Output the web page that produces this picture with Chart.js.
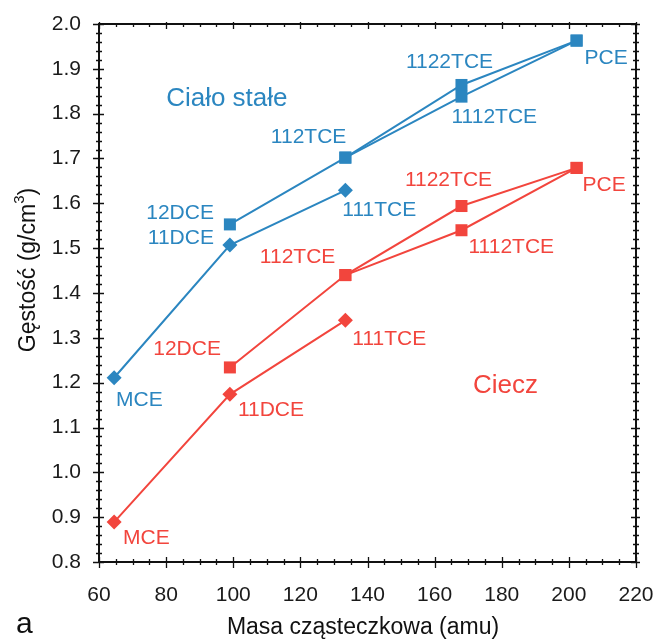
<!DOCTYPE html>
<html>
<head>
<meta charset="utf-8">
<script src="https://cdn.jsdelivr.net/npm/chart.js@4"></script>
<style>
  html, body { margin: 0; padding: 0; background: #fff; }
  #wrap { width: 656px; height: 641px; }
</style>
</head>
<body>
<div id="wrap"><canvas id="chart" width="656" height="641"></canvas></div>
<script>
// compounds, molar mass (amu) and density (g/cm3)
const compounds = ["MCE", "11DCE", "12DCE", "111TCE", "112TCE", "1122TCE", "1112TCE", "PCE"];
const massAmu = [64.5, 99, 99, 133.4, 133.4, 168, 168, 202.3];
const solidDensity = [1.211, 1.507, 1.553, 1.629, 1.702, 1.864, 1.838, 1.963];
const liquidDensity = [0.889, 1.174, 1.234, 1.339, 1.440, 1.594, 1.540, 1.679];

// connected chains
const diamondChain = ["MCE", "11DCE", "111TCE"];
const squareChainA = ["12DCE", "112TCE", "1122TCE", "PCE"];
const squareChainB = ["112TCE", "1112TCE", "PCE"];

const xTicks = [60, 80, 100, 120, 140, 160, 180, 200, 220];
const yTicks = [0.8, 0.9, 1.0, 1.1, 1.2, 1.3, 1.4, 1.5, 1.6, 1.7, 1.8, 1.9, 2.0];

const BLUE = "#2b86c0";
const RED = "#f2453d";
const FONT = "'Liberation Sans', Arial, sans-serif";

// label placement (pixel offsets from the point)
const solidLabels = {
  "MCE": ["left", 2, 22], "11DCE": ["right", -16, -7], "12DCE": ["right", -16, -11],
  "111TCE": ["left", -3, 20], "112TCE": ["right", 1, -20], "1122TCE": ["center", -12, -23],
  "1112TCE": ["left", -10, 21], "PCE": ["left", 8, 18],
};
const liquidLabels = {
  "MCE": ["left", 9, 16], "11DCE": ["left", 8, 16], "12DCE": ["right", -9, -18],
  "111TCE": ["left", 7, 19], "112TCE": ["right", -10, -18], "1122TCE": ["center", -13, -26],
  "1112TCE": ["left", 7, 17], "PCE": ["left", 6, 17],
};
const regions = [
  { text: "Ciało stałe", x: 80, y: 1.833, color: BLUE },
  { text: "Ciecz", x: 171.4, y: 1.192, color: RED },
];

function pts(chain, dens) {
  return chain.map((n) => {
    const i = compounds.indexOf(n);
    return { x: massAmu[i], y: dens[i] };
  });
}

function series(chain, dens, color, style) {
  return {
    data: pts(chain, dens),
    borderColor: color,
    backgroundColor: color,
    borderWidth: 2,
    pointStyle: style,
    pointRadius: style === "rect" ? 8.5 : 7.5,
    pointBorderWidth: 0,
    showLine: true,
    tension: 0,
  };
}

const datasets = [
  series(squareChainB, solidDensity, BLUE, "rect"),
  series(squareChainA, solidDensity, BLUE, "rect"),
  series(diamondChain, solidDensity, BLUE, "rectRot"),
  series(squareChainB, liquidDensity, RED, "rect"),
  series(squareChainA, liquidDensity, RED, "rect"),
  series(diamondChain, liquidDensity, RED, "rectRot"),
];

const decor = {
  id: "decor",
  afterDraw(chart) {
    const { ctx, chartArea: a, scales: { x, y } } = chart;
    ctx.save();
    ctx.strokeStyle = "#111";
    ctx.lineWidth = 2;
    ctx.strokeRect(a.left, a.top, a.right - a.left, a.bottom - a.top);

    ctx.lineWidth = 1.3;
    ctx.beginPath();
    for (let v = 60; v <= 220.001; v += 5) {
      const px = Math.round(x.getPixelForValue(v)) + 0.5;
      const major = Math.abs(v % 20) < 1e-6;
      const o = major ? 6 : 3, n = major ? 5 : 3;
      ctx.moveTo(px, a.bottom + o); ctx.lineTo(px, a.bottom - n);
      ctx.moveTo(px, a.top - (major ? 2 : 1)); ctx.lineTo(px, a.top + n);
    }
    for (let k = 0; k <= 60; k++) {
      const v = 0.8 + k * 0.02;
      const py = Math.round(y.getPixelForValue(v)) + 0.5;
      const major = k % 5 === 0;
      const o = major ? 6 : 3, n = major ? 5 : 3;
      ctx.moveTo(a.left - o, py); ctx.lineTo(a.left + n, py);
      ctx.moveTo(a.right - n, py); ctx.lineTo(a.right + (major ? 4 : 3), py);
    }
    ctx.stroke();

    // point labels
    ctx.textBaseline = "middle";
    ctx.font = `21px ${FONT}`;
    const drawLabels = (labels, dens, color) => {
      ctx.fillStyle = color;
      for (const [name, [align, dx, dy]] of Object.entries(labels)) {
        const i = compounds.indexOf(name);
        ctx.textAlign = align;
        ctx.fillText(name, x.getPixelForValue(massAmu[i]) + dx, y.getPixelForValue(dens[i]) + dy);
      }
    };
    drawLabels(solidLabels, solidDensity, BLUE);
    drawLabels(liquidLabels, liquidDensity, RED);

    ctx.font = `26px ${FONT}`;
    ctx.textAlign = "left";
    for (const r of regions) {
      ctx.fillStyle = r.color;
      ctx.fillText(r.text, x.getPixelForValue(r.x), y.getPixelForValue(r.y));
    }

    // axis titles
    ctx.fillStyle = "#111";
    ctx.font = `23px ${FONT}`;
    ctx.textAlign = "center";
    ctx.fillText("Masa cząsteczkowa (amu)", 363, 628);

    ctx.save();
    ctx.translate(29, 270);
    ctx.rotate(-Math.PI / 2);
    const main = "Gęstość (g/cm";
    const w1 = ctx.measureText(main).width;
    ctx.font = `15px ${FONT}`;
    const w3 = ctx.measureText("3").width;
    ctx.font = `23px ${FONT}`;
    const w4 = ctx.measureText(")").width;
    const start = -(w1 + w3 + w4) / 2;
    ctx.textAlign = "left";
    ctx.fillText(main, start, 0);
    ctx.font = `15px ${FONT}`;
    ctx.fillText("3", start + w1, -9);
    ctx.font = `23px ${FONT}`;
    ctx.fillText(")", start + w1 + w3, 0);
    ctx.restore();

    ctx.font = `30px ${FONT}`;
    ctx.textAlign = "left";
    ctx.fillText("a", 16, 625);
    ctx.restore();
  },
};

new Chart(document.getElementById("chart"), {
  type: "scatter",
  data: { datasets },
  options: {
    responsive: false,
    animation: false,
    layout: { padding: { top: 24, right: 20, left: 0, bottom: 0 } },
    plugins: { legend: { display: false }, tooltip: { enabled: false } },
    scales: {
      x: {
        type: "linear",
        min: 60,
        max: 220,
        afterBuildTicks: (s) => { s.ticks = xTicks.map((v) => ({ value: v })); },
        afterFit: (s) => { s.height = 79; s.paddingLeft = 0; s.paddingRight = 0; },
        grid: { display: false },
        border: { display: false },
        ticks: { color: "#1a1a1a", font: { family: FONT, size: 21 }, padding: 13, maxRotation: 0 },
      },
      y: {
        type: "linear",
        min: 0.8,
        max: 2.0,
        afterBuildTicks: (s) => { s.ticks = yTicks.map((v) => ({ value: v })); },
        afterFit: (s) => { s.width = 99; s.paddingTop = 0; s.paddingBottom = 0; },
        grid: { display: false },
        border: { display: false },
        ticks: {
          color: "#1a1a1a",
          font: { family: FONT, size: 21 },
          padding: 10,
          callback: (v) => Number(v).toFixed(1),
        },
      },
    },
  },
  plugins: [decor],
});
</script>
</body>
</html>
